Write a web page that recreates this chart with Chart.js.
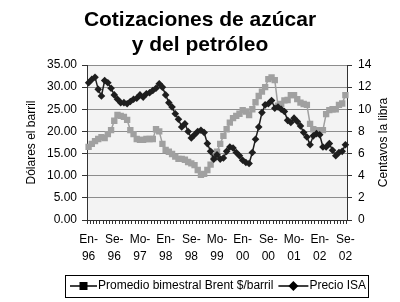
<!DOCTYPE html>
<html>
<head>
<meta charset="utf-8">
<script src="https://cdn.jsdelivr.net/npm/chart.js@4.4.1/dist/chart.umd.min.js"></script>
<style>
  html, body { margin: 0; padding: 0; background: #fff; }
</style>
</head>
<body>
<canvas id="c" width="400" height="302"></canvas>
<script>
// monthly categories, Jan 1996 - Sep 2002
const months = [
  'En-96','Fe-96','Ma-96','Ab-96','Mo-96','Jn-96','Jl-96','Ag-96','Se-96','Oc-96','No-96','Di-96',
  'En-97','Fe-97','Ma-97','Ab-97','Mo-97','Jn-97','Jl-97','Ag-97','Se-97','Oc-97','No-97','Di-97',
  'En-98','Fe-98','Ma-98','Ab-98','Mo-98','Jn-98','Jl-98','Ag-98','Se-98','Oc-98','No-98','Di-98',
  'En-99','Fe-99','Ma-99','Ab-99','Mo-99','Jn-99','Jl-99','Ag-99','Se-99','Oc-99','No-99','Di-99',
  'En-00','Fe-00','Ma-00','Ab-00','Mo-00','Jn-00','Jl-00','Ag-00','Se-00','Oc-00','No-00','Di-00',
  'En-01','Fe-01','Ma-01','Ab-01','Mo-01','Jn-01','Jl-01','Ag-01','Se-01','Oc-01','No-01','Di-01',
  'En-02','Fe-02','Ma-02','Ab-02','Mo-02','Jn-02','Jl-02','Ag-02','Se-02'
];

// Promedio bimestral Brent, $/barril (left axis)
const brent = [
  16.5, 17.2, 17.8, 18.3, 18.7, 18.5, 19.4, 20.3, 22.4, 23.7, 23.5, 23.3,
  22.6, 20.3, 19.4, 18.3, 18.1, 18.1, 18.3, 18.3, 18.3, 20.5, 20.0, 17.2,
  15.8, 15.4, 14.9, 14.3, 13.8, 13.8, 13.6, 13.1, 12.8, 12.4, 11.3, 10.2,
  10.4, 11.3, 12.5, 14.0, 15.4, 17.2, 19.0, 20.5, 22.0, 23.0, 23.5, 24.0,
  24.8, 24.5, 23.7, 25.0, 26.6, 28.0, 29.0, 30.0, 31.8, 32.2, 31.6, 25.8,
  26.2, 27.0, 27.1, 28.2, 28.2, 27.3, 26.5, 26.2, 26.0, 21.7, 20.5, 20.3,
  20.3, 20.3, 23.9, 24.8, 25.0, 25.0, 26.0, 26.3, 28.2
];

// Precio ISA, centavos la libra (right axis)
const isa = [
  12.4, 12.7, 12.9, 11.8, 11.2, 12.6, 12.4, 11.9, 11.3, 10.9, 10.6, 10.6,
  10.5, 10.7, 10.9, 11.0, 11.3, 11.1, 11.4, 11.5, 11.7, 11.9, 12.3, 12.0,
  11.3, 10.6, 10.2, 9.6, 9.1, 8.4, 8.7, 8.0, 7.4, 7.7, 8.0, 8.1,
  7.9, 6.9, 6.2, 5.5, 5.9, 5.5, 5.6, 6.2, 6.6, 6.5, 6.1, 5.8,
  5.4, 5.2, 5.1, 6.1, 7.3, 8.4, 9.7, 10.4, 10.5, 10.8, 10.1, 10.2,
  10.0, 9.8, 9.0, 8.8, 9.2, 8.9, 8.5, 7.9, 7.5, 6.8, 7.6, 7.8,
  7.7, 6.6, 6.6, 6.9, 6.3, 5.8, 6.1, 6.2, 6.8
];

const labelEvery = 8;
const seriesNames = ['Promedio bimestral Brent $/barril', 'Precio ISA'];
const rightTitle = 'Centavos la libra';

const FONT = '"Liberation Sans", Arial, sans-serif';
Chart.defaults.font.family = FONT;
Chart.defaults.font.size = 12;
Chart.defaults.color = '#000';

const frame = {
  id: 'frame',
  beforeDraw(chart) {
    const {ctx, chartArea: a} = chart;
    ctx.save();
    ctx.fillStyle = '#f3f3f3';
    ctx.fillRect(a.left, a.top, a.right - a.left, a.bottom - a.top);
    ctx.restore();
  },
  afterDraw(chart) {
    const ctx = chart.ctx;
    const a = chart.chartArea;
    ctx.save();
    ctx.font = '12px ' + FONT;
    ctx.fillStyle = '#000';

    // right axis title reads bottom-to-top, like the left one
    ctx.save();
    ctx.translate(384, (a.top + a.bottom) / 2);
    ctx.rotate(-Math.PI / 2);
    ctx.textAlign = 'center';
    ctx.textBaseline = 'middle';
    ctx.fillText(rightTitle, 0, 0);
    ctx.restore();

    // legend box under the axis: line + marker, then text
    const y = 286;
    ctx.textBaseline = 'middle';
    ctx.strokeStyle = '#000';
    ctx.lineWidth = 1;
    ctx.strokeRect(65.5, 275.5, 303, 22);

    let x = 70;
    ctx.lineWidth = 1.5;
    ctx.beginPath(); ctx.moveTo(x, y); ctx.lineTo(x + 27, y); ctx.stroke();
    ctx.fillRect(x + 9.5, y - 4, 8, 8);
    x += 28;
    ctx.fillText(seriesNames[0], x, y);
    x += ctx.measureText(seriesNames[0]).width + 5;

    ctx.beginPath(); ctx.moveTo(x, y); ctx.lineTo(x + 30, y); ctx.stroke();
    const cx = x + 15;
    ctx.beginPath();
    ctx.moveTo(cx, y - 5); ctx.lineTo(cx + 5, y); ctx.lineTo(cx, y + 5); ctx.lineTo(cx - 5, y);
    ctx.closePath(); ctx.fill();
    x += 31;
    ctx.fillText(seriesNames[1], x, y);
    ctx.restore();
  }
};

new Chart(document.getElementById('c'), {
  type: 'line',
  data: {
    labels: months,
    datasets: [{
      label: seriesNames[0],
      data: brent,
      yAxisID: 'y',
      borderColor: '#a0a0a0',
      backgroundColor: '#a0a0a0',
      borderWidth: 1.5,
      pointStyle: 'rect',
      pointRadius: 4.5,
      pointBorderWidth: 0,
      order: 2
    }, {
      label: seriesNames[1],
      data: isa,
      yAxisID: 'y2',
      borderColor: '#1e1e1e',
      backgroundColor: '#1e1e1e',
      borderWidth: 1.5,
      pointStyle: 'rectRot',
      pointRadius: 3.8,
      pointBorderWidth: 0,
      order: 1
    }]
  },
  options: {
    responsive: false,
    animation: false,
    layout: {padding: {left: 0, right: 0, top: 0, bottom: 34}},
    plugins: {
      legend: {display: false},
      tooltip: {enabled: false},
      title: {
        display: true,
        text: ['Cotizaciones de azúcar', 'y del petróleo'],
        font: {size: 21, weight: 'bold', lineHeight: '25px'},
        color: '#000',
        padding: {top: 8, bottom: 7}
      }
    },
    scales: {
      x: {
        type: 'category',
        offset: true,
        afterFit(s) { s.height = 48; },
        grid: {
          offset: true,
          drawOnChartArea: false,
          tickLength: 4,
          tickColor: '#333'
        },
        border: {color: '#333', width: 1},
        ticks: {
          autoSkip: false,
          maxRotation: 0,
          padding: 8,
          font: {size: 12, lineHeight: 1.35},
          callback(v, i) {
            if (i % labelEvery !== 0) return '';
            const parts = months[i].split('-');
            return [parts[0] + '-', parts[1]];
          }
        }
      },
      y: {
        position: 'left',
        min: 0,
        max: 35,
        afterFit(s) { s.width = 87; },
        grid: {color: '#8c8c8c', tickColor: '#333', tickLength: 5},
        border: {color: '#333', width: 1},
        ticks: {
          stepSize: 5,
          padding: 5,
          callback: v => v.toFixed(2)
        },
        title: {
          display: true,
          text: 'Dólares el barril',
          font: {size: 12},
          padding: {top: 24, bottom: 0}
        }
      },
      y2: {
        position: 'right',
        min: 0,
        max: 14,
        afterFit(s) { s.width = 53; },
        grid: {drawOnChartArea: false, tickColor: '#333', tickLength: 5},
        border: {color: '#333', width: 1},
        ticks: {stepSize: 2, padding: 6}
      }
    }
  },
  plugins: [frame]
});
</script>
</body>
</html>
